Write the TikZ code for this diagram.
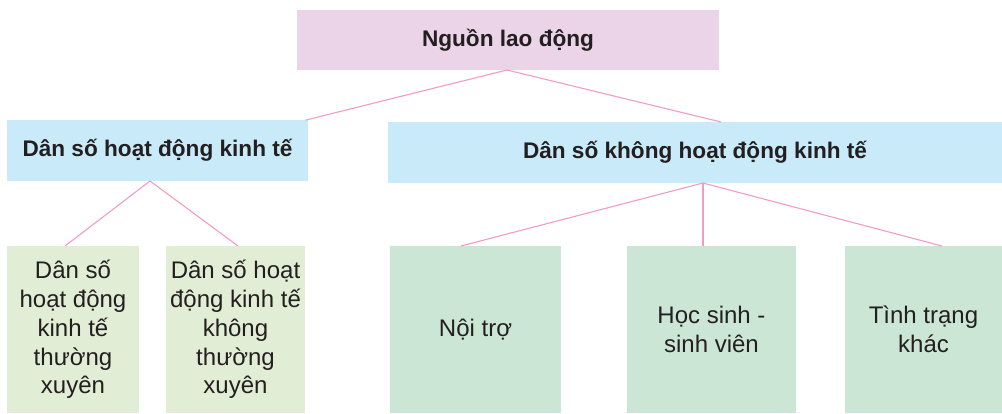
\documentclass[tikz,border=0pt]{standalone}
\usepackage{fontspec}
\setmainfont{Liberation Sans}
\definecolor{toppink}{HTML}{EBD3E8}
\definecolor{midblue}{HTML}{C8EAF9}
\definecolor{lgreen}{HTML}{E2EDD5}
\definecolor{dgreen}{HTML}{CCE6D5}
\definecolor{linepink}{HTML}{F29CC3}
\definecolor{txt}{HTML}{231F20}
\tikzset{
  boxbase/.style={rectangle, inner sep=0pt, outer sep=0pt, text=txt, align=center},
  topbox/.style={boxbase, fill=toppink, font=\fontsize{22.6}{27}\selectfont\bfseries},
  midbox/.style={boxbase, fill=midblue, minimum height=61pt, font=\fontsize{22.6}{27}\selectfont\bfseries},
  leafbox/.style={boxbase, minimum height=167pt, font=\fontsize{24}{28.8}\selectfont},
  conn/.style={draw=linepink, line width=1.1pt}
}
\begin{document}
\begin{tikzpicture}[x=1pt,y=-1pt]
\useasboundingbox (0,0) rectangle (1002,413);
\node[topbox, minimum width=422pt, minimum height=60pt] (top) at (508,40) {Nguồn lao động};
\node[midbox, minimum width=301pt] (lb) at (157.5,150.5) {Dân số hoạt động kinh tế};
\node[midbox, minimum width=614pt] (rb) at (695,152.5) {Dân số không hoạt động kinh tế};
\node[leafbox, fill=lgreen, minimum width=132pt] (b1) at (73,329.5) {Dân số\\hoạt động\\kinh tế\\thường\\xuyên};
\node[leafbox, fill=lgreen, minimum width=139pt] (b2) at (235.5,329.5) {Dân số hoạt\\động kinh tế\\không\\thường\\xuyên};
\node[leafbox, fill=dgreen, minimum width=171pt] (b3) at (475.5,329.5) {Nội trợ};
\node[leafbox, fill=dgreen, minimum width=169pt] (b4) at (711.5,329.5) {Học sinh -\\sinh viên};
\node[leafbox, fill=dgreen, minimum width=157pt] (b5) at (923.5,329.5) {Tình trạng\\khác};
\draw[conn] ([xshift=-1pt]top.south) -- ([xshift=-2pt]lb.north east);
\draw[conn] ([xshift=-1pt]top.south) -- ([xshift=26pt]rb.north);
\draw[conn] ([xshift=-7.5pt]lb.south) -- ([xshift=-8pt]b1.north);
\draw[conn] ([xshift=-7.5pt]lb.south) -- ([xshift=2.5pt]b2.north);
\draw[conn] ([xshift=8pt]rb.south) -- ([xshift=-14.5pt]b3.north);
\draw[conn] ([xshift=8pt]rb.south) -- ([xshift=-8.5pt]b4.north);
\draw[conn] ([xshift=8pt]rb.south) -- ([xshift=18.5pt]b5.north);
\end{tikzpicture}
\end{document}
